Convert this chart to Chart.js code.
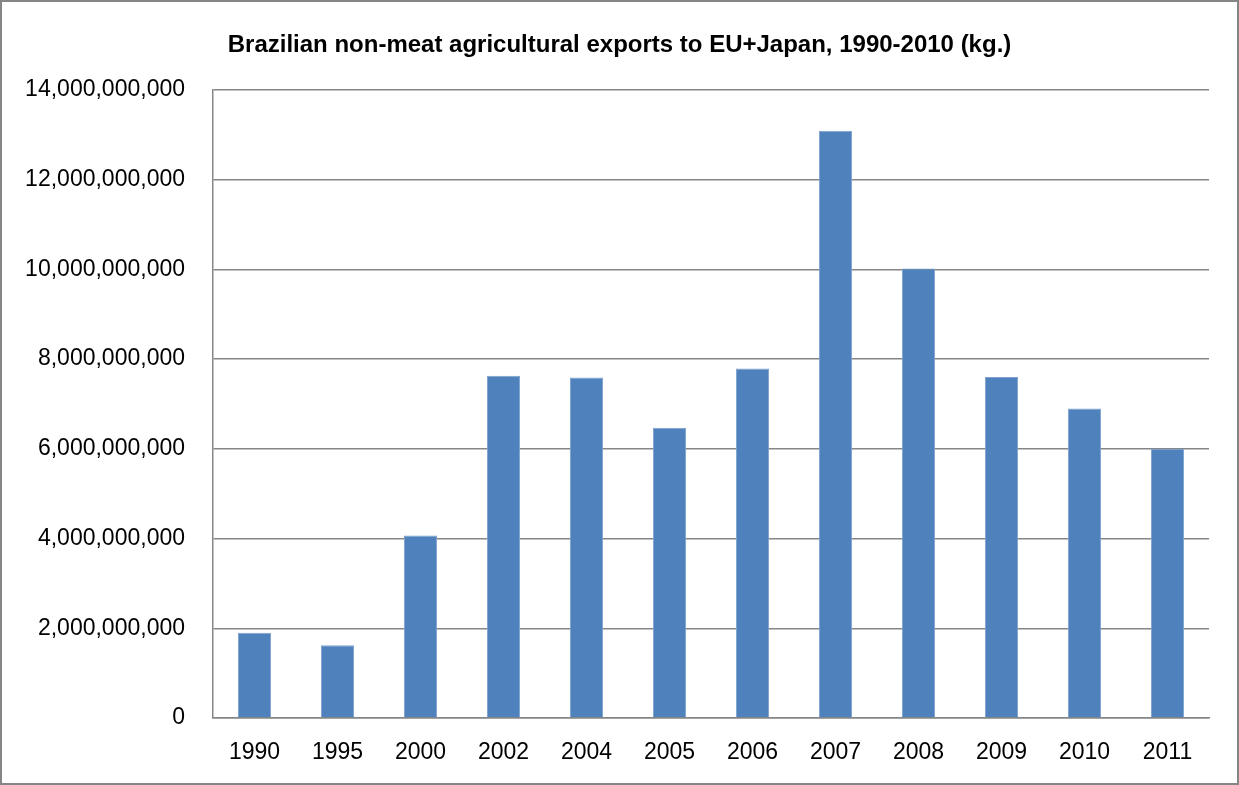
<!DOCTYPE html>
<html>
<head>
<meta charset="utf-8">
<script src="https://cdn.jsdelivr.net/npm/chart.js@4"></script>
<style>
	html, body { margin: 0; padding: 0; background: #fff; }
	#wrap { width: 1239px; height: 785px; box-sizing: border-box; border: 2px solid #868686; position: relative; }
	canvas { display: block; }
</style>
</head>
<body>
<div id="wrap"><canvas id="chart" width="1235" height="781"></canvas></div>
<script>
let years = ['1990', '1995', '2000', '2002', '2004', '2005', '2006', '2007', '2008', '2009', '2010', '2011'];
let exportsKg = [1900000000, 1620000000, 4070000000, 7630000000, 7590000000, 6470000000, 7790000000, 13090000000, 10020000000, 7600000000, 6900000000, 6000000000];
let chartTitle = 'Brazilian non-meat agricultural exports to EU+Japan, 1990-2010 (kg.)';

let fontFamily = '"Liberation Sans", Arial, sans-serif';

// title centred on the whole canvas, like the Excel chart
let centeredTitle = {
	id: 'centeredTitle',
	afterDraw(chart) {
		let ctx = chart.ctx;
		ctx.save();
		ctx.font = 'bold 24px ' + fontFamily;
		ctx.fillStyle = '#000';
		ctx.textAlign = 'center';
		ctx.textBaseline = 'middle';
		ctx.fillText(chartTitle, chart.width / 2, 43);
		ctx.restore();
	}
};

new Chart(document.querySelector('#chart'), {
	type: 'bar',
	data: {
		labels: years,
		datasets: [
			{
				data: exportsKg,
				backgroundColor: '#4F81BD',
				borderColor: '#7DA2D0',
				borderWidth: 1,
				barPercentage: 0.4,
				categoryPercentage: 1
			}
		]
	},
	options: {
		responsive: false,
		animation: false,
		layout: {
			padding: { left: 0, right: 28, top: 88, bottom: 0 }
		},
		plugins: {
			legend: { display: false },
			tooltip: { enabled: false },
			title: { display: false }
		},
		scales: {
			x: {
				grid: { display: false, drawTicks: false },
				border: { display: true, color: '#868686', width: 1.5 },
				ticks: {
					color: '#000',
					font: { family: fontFamily, size: 23 },
					padding: 21,
					maxRotation: 0
				},
				afterFit: (scale) => { scale.height = 65; }
			},
			y: {
				min: 0,
				max: 14000000000,
				grid: { color: '#868686', lineWidth: 1.5, drawTicks: false },
				border: { display: true, color: '#868686', width: 1.5 },
				ticks: {
					stepSize: 2000000000,
					color: '#000',
					font: { family: fontFamily, size: 23 },
					padding: 28,
					callback: (value) => value.toLocaleString('en-US')
				},
				afterFit: (scale) => { scale.width = 211; }
			}
		}
	},
	plugins: [centeredTitle]
});
</script>
</body>
</html>
